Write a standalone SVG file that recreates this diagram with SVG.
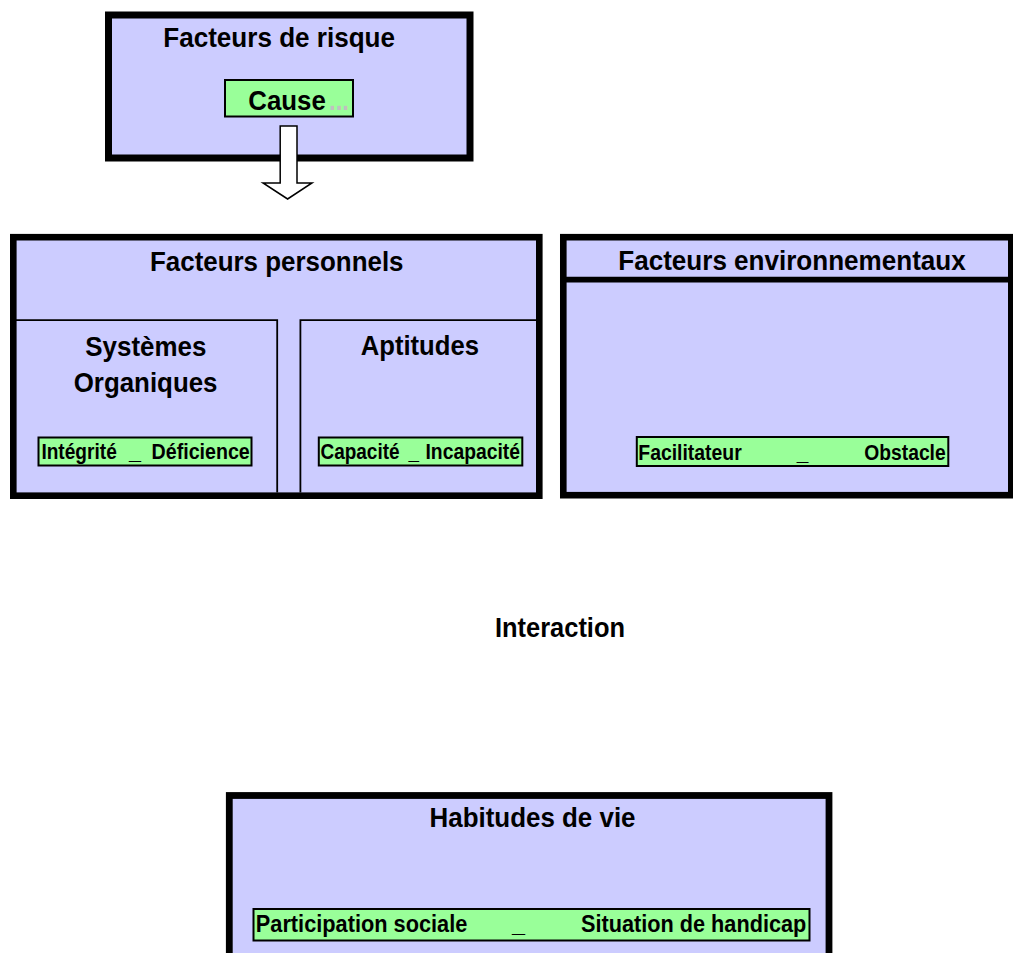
<svg xmlns="http://www.w3.org/2000/svg" width="1013" height="953" viewBox="0 0 1013 953">
  <style>
    .box { fill: #ccccff; stroke: #000; stroke-width: 6.6; }
    .rule { fill: none; stroke: #000; stroke-width: 1.8; }
    .tag { fill: #99ff99; stroke: #000; stroke-width: 2; }
    .h { font-family: "Liberation Sans", Arial, sans-serif; font-weight: bold; font-size: 28px; fill: #000; }
    .t { font-family: "Liberation Sans", Arial, sans-serif; font-weight: bold; font-size: 21.5px; fill: #000; }
    .dots { fill: #c0c0c0; }
    .arrow { fill: #fff; stroke: #000; stroke-width: 1.5; stroke-linejoin: miter; }
  </style>

  <rect width="1013" height="953" fill="#fff"/>

  <!-- Risk factors -->
  <g id="facteurs-risque">
    <rect class="box" x="108.5" y="15" width="361.5" height="143" style="stroke-width:7"/>
    <text class="h" x="163.3" y="47" textLength="231.7" lengthAdjust="spacingAndGlyphs">Facteurs de risque</text>
    <g id="cause">
      <rect class="tag" x="225" y="80" width="128" height="36.5"/>
      <text class="h" x="248.3" y="109.5" style="font-size:27px" textLength="77.5" lengthAdjust="spacingAndGlyphs">Cause</text>
      <text class="h dots" x="329" y="109.5" style="font-size:27px" textLength="20" lengthAdjust="spacingAndGlyphs">...</text>
    </g>
  </g>

  <!-- Personal factors -->
  <g id="facteurs-personnels">
    <rect class="box" x="13.3" y="237.2" width="526" height="258.5"/>
    <text class="h" x="150" y="271" textLength="253.5" lengthAdjust="spacingAndGlyphs">Facteurs personnels</text>
    <g id="systemes-organiques">
      <path class="rule" d="M16 320.2 H277.2 V492.5"/>
      <text class="h" x="85.3" y="356" textLength="121" lengthAdjust="spacingAndGlyphs">Systèmes</text>
      <text class="h" x="73.7" y="392" textLength="143.8" lengthAdjust="spacingAndGlyphs">Organiques</text>
      <rect class="tag" x="38.5" y="437.5" width="213" height="28"/>
      <text class="t" x="41.4" y="458.5" textLength="75.4" lengthAdjust="spacingAndGlyphs">Intégrité</text>
      <text class="t" x="129" y="458.5" textLength="12" lengthAdjust="spacingAndGlyphs">_</text>
      <text class="t" x="151.6" y="458.5" textLength="98.2" lengthAdjust="spacingAndGlyphs">Déficience</text>
    </g>
    <g id="aptitudes">
      <path class="rule" d="M536 320.2 H300.4 V492.5"/>
      <text class="h" x="360.7" y="355" textLength="118.3" lengthAdjust="spacingAndGlyphs">Aptitudes</text>
      <rect class="tag" x="318.8" y="437.5" width="203.5" height="28"/>
      <text class="t" x="320.5" y="458.5" textLength="79" lengthAdjust="spacingAndGlyphs">Capacité</text>
      <text class="t" x="408.5" y="458.5" textLength="10.5" lengthAdjust="spacingAndGlyphs">_</text>
      <text class="t" x="425.5" y="458.5" textLength="94.5" lengthAdjust="spacingAndGlyphs">Incapacité</text>
    </g>
  </g>

  <!-- Environmental factors -->
  <g id="facteurs-environnementaux">
    <rect class="box" x="563.3" y="237.2" width="448" height="258"/>
    <path d="M566 279.7 H1013" stroke="#000" stroke-width="5.8"/>
    <text class="h" x="618.3" y="269.5" textLength="347.4" lengthAdjust="spacingAndGlyphs">Facteurs environnementaux</text>
    <rect class="tag" x="636.8" y="437" width="311.5" height="29"/>
    <text class="t" x="638.3" y="460" textLength="103.4" lengthAdjust="spacingAndGlyphs">Facilitateur</text>
    <text class="t" x="796.7" y="460" textLength="11.6" lengthAdjust="spacingAndGlyphs">_</text>
    <text class="t" x="864.3" y="460" textLength="81.4" lengthAdjust="spacingAndGlyphs">Obstacle</text>
  </g>

  <!-- Interaction label -->
  <g id="interaction">
    <text class="h" x="495" y="636.7" textLength="130" lengthAdjust="spacingAndGlyphs">Interaction</text>
  </g>

  <!-- Life habits -->
  <g id="habitudes-de-vie">
    <rect class="box" x="229.3" y="795.5" width="599.7" height="220" style="stroke-width:6.8"/>
    <text class="h" x="429.5" y="826.7" textLength="206" lengthAdjust="spacingAndGlyphs">Habitudes de vie</text>
    <rect class="tag" x="253.5" y="909" width="556" height="31.5"/>
    <text class="t" x="255.8" y="932" style="font-size:23px" textLength="211.5" lengthAdjust="spacingAndGlyphs">Participation sociale</text>
    <text class="t" x="512" y="932" style="font-size:23px" textLength="13" lengthAdjust="spacingAndGlyphs">_</text>
    <text class="t" x="581" y="932" style="font-size:23px" textLength="225.3" lengthAdjust="spacingAndGlyphs">Situation de handicap</text>
  </g>

  <!-- Connectors -->
  <g id="connectors">
    <path class="arrow" d="M280.2 126 H297 V183 H312 L287.6 199 L263 183 H280.2 Z"/>
  </g>
</svg>
